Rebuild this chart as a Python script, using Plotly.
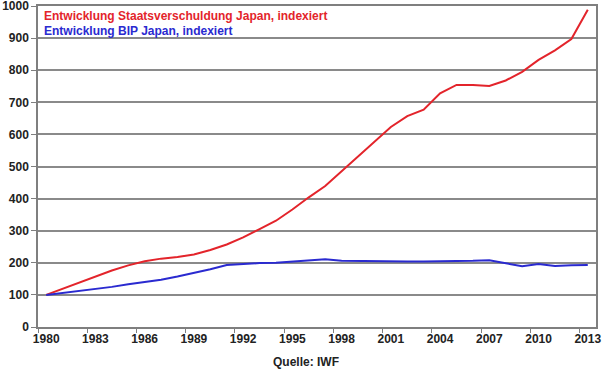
import plotly.graph_objects as go

years = list(range(1980, 2014))
debt_index = [100, 119, 139, 159, 176, 192, 205, 213, 218, 226, 240, 257, 279, 305,
              331, 366, 404, 439, 485, 532, 580, 623, 657, 677, 728, 754, 754, 751,
              768, 795, 832, 862, 897, 988]
gdp_index = [100, 106, 112, 118, 125, 133, 140, 147, 157, 168, 180, 193, 197, 199,
             200, 204, 208, 211, 206, 205, 204, 204, 204, 204, 204, 204, 206, 208,
             199, 189, 196, 190, 192, 193]
tick_years = list(range(1980, 2014, 3))
tick_labels = [str(y) for y in tick_years]
y_ticks = list(range(0, 1001, 100))

debt_name = "Entwicklung Staatsverschuldung Japan, indexiert"
gdp_name = "Entwicklung BIP Japan, indexiert"

RED = "#e3242b"
BLUE = "#2a2ad0"
FONT = "Liberation Sans"

fig = go.Figure()
fig.add_trace(go.Scatter(x=years, y=debt_index, mode="lines", name=debt_name,
                         line=dict(color=RED, width=2)))
fig.add_trace(go.Scatter(x=years, y=gdp_index, mode="lines", name=gdp_name,
                         line=dict(color=BLUE, width=2)))

fig.update_layout(
    width=602, height=371,
    margin=dict(l=38, r=6, t=6, b=44, autoexpand=False),
    paper_bgcolor="white", plot_bgcolor="white",
    showlegend=False,
    font=dict(family=FONT, size=12, color="#222"),
    xaxis=dict(
        range=[1979.5, 2013.5], tickmode="array", tickvals=tick_years, ticktext=tick_labels,
        ticks="", showgrid=False, zeroline=False, automargin=False,
        ticklabeloverflow="allow",
        showline=True, linecolor="#7f7f7f", linewidth=1.5, mirror=True,
        tickfont=dict(family=FONT, size=12, color="#222", weight="bold"),
        minor=dict(tickmode="array", tickvals=[y - 0.5 for y in tick_years],
                   ticks="outside", ticklen=4, tickcolor="#7f7f7f", tickwidth=1, showgrid=False),
    ),
    yaxis=dict(
        range=[0, 1000], tickmode="array", tickvals=y_ticks,
        ticks="outside", ticklen=5, tickcolor="#7f7f7f", automargin=False,
        ticklabeloverflow="allow",
        showgrid=True, gridcolor="#8a8a8a", gridwidth=1.5, zeroline=False,
        showline=True, linecolor="#7f7f7f", linewidth=1.5, mirror=True,
        tickfont=dict(family=FONT, size=12, color="#222", weight="bold"),
    ),
    annotations=[
        dict(text=debt_name, x=0.008, y=1.0, xref="paper", yref="paper",
             xanchor="left", yanchor="top", yshift=-1, showarrow=False,
             font=dict(family=FONT, size=12, color=RED, weight="bold")),
        dict(text=gdp_name, x=0.008, y=1.0, xref="paper", yref="paper",
             xanchor="left", yanchor="top", yshift=-16, showarrow=False,
             font=dict(family=FONT, size=12, color=BLUE, weight="bold")),
        dict(text="Quelle: IWF", x=0.48, y=0, xref="paper", yref="paper",
             xanchor="center", yanchor="top", yshift=-26, showarrow=False,
             font=dict(family=FONT, size=12, color="#222", weight="bold")),
    ],
)

fig.write_html("out.html", config={"displayModeBar": False},
               post_script="document.body.style.margin='0';document.body.style.padding='0';")
